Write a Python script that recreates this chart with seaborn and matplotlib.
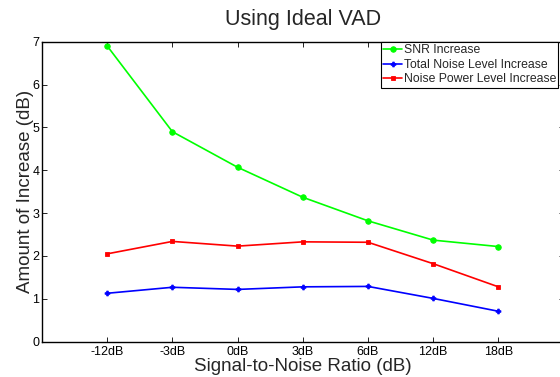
import matplotlib
matplotlib.use("Agg")
import matplotlib.pyplot as plt
import seaborn as sns
import pandas as pd
import numpy as np

categories = ["-12dB", "-3dB", "0dB", "3dB", "6dB", "12dB", "18dB"]
snr_increase = [6.90, 4.90, 4.07, 3.37, 2.82, 2.37, 2.22]
total_noise_increase = [1.13, 1.27, 1.22, 1.28, 1.29, 1.01, 0.71]
noise_power_increase = [2.05, 2.34, 2.23, 2.33, 2.32, 1.82, 1.28]
series_names = ["SNR Increase", "Total Noise Level Increase", "Noise Power Level Increase"]

sns.set_theme(style="white")
plt.rcParams["font.family"] = ["Liberation Sans", "DejaVu Sans"]

pos = np.arange(1, len(categories) + 1)
frames = []
for name, vals in zip(series_names, [snr_increase, total_noise_increase, noise_power_increase]):
    frames.append(pd.DataFrame({"pos": pos, "val": vals, "series": name}))
df = pd.concat(frames, ignore_index=True)

fig = plt.figure(figsize=(5.6, 3.77), dpi=100)
ax = fig.add_axes([42 / 560, 1 - 341.7 / 377, 521.6 / 560, 300 / 377])

colors = {"SNR Increase": "#00ff00", "Total Noise Level Increase": "#0000ff",
          "Noise Power Level Increase": "#ff0000"}
markers = {"SNR Increase": "o", "Total Noise Level Increase": "P",
           "Noise Power Level Increase": "s"}
msize = {"SNR Increase": 4, "Total Noise Level Increase": 3.5,
         "Noise Power Level Increase": 3.5}
for name in series_names:
    sub = df[df["series"] == name]
    sns.lineplot(data=sub, x="pos", y="val", ax=ax, color=colors[name],
                 marker=markers[name], markersize=msize[name], markeredgewidth=0.6,
                 markeredgecolor=colors[name], linewidth=1.2, label=name)

ax.set_xlim(0, 8)
ax.set_ylim(0, 7)
ax.set_xticks(pos)
ax.set_xticklabels(categories, fontsize=9)
ax.set_yticks(range(0, 8))
ax.set_yticklabels([str(i) for i in range(0, 8)], fontsize=9)
ax.tick_params(direction="in", length=3.5, width=0.6, top=True, right=True,
               bottom=True, left=True, colors="black")
ax.tick_params(axis="x", pad=3)
ax.tick_params(axis="y", pad=2)
for s in ax.spines.values():
    s.set_color("black")
    s.set_linewidth(1.0)

ax.set_xlabel("Signal-to-Noise Ratio (dB)", fontsize=13.5, labelpad=0)
ax.set_ylabel("Amount of Increase (dB)", fontsize=13.5, labelpad=-1)
ax.set_title("Using Ideal VAD", fontsize=15.5, pad=12)

leg = ax.legend(loc="upper left", bbox_to_anchor=(381 / 560, 1 - 42 / 377),
                bbox_transform=fig.transFigure, fontsize=8.8, frameon=True,
                fancybox=False, borderaxespad=0.0, handlelength=1.55,
                handletextpad=0.1, labelspacing=0.2, borderpad=0.2)
leg.get_frame().set_edgecolor("black")
leg.get_frame().set_linewidth(0.8)
leg.get_frame().set_alpha(1)

fig.savefig("out.png", dpi=100)
